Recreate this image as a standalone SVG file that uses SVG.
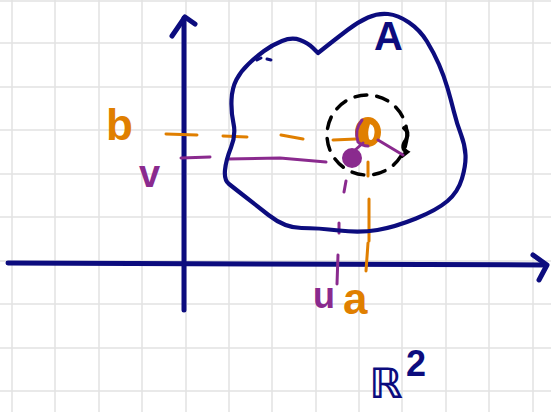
<svg xmlns="http://www.w3.org/2000/svg" width="551" height="412" viewBox="0 0 551 412">
<style>
.grid line{stroke:#e2e2e2;stroke-width:1.5}
.navy{stroke:#0c0c7e;fill:none;stroke-linecap:round;stroke-linejoin:round}
.or{stroke:#e07f00;fill:none;stroke-width:3;stroke-linecap:round}
.pu{stroke:#8a2a8e;fill:none;stroke-width:3;stroke-linecap:round}
.lbl{font-family:"Liberation Sans","DejaVu Sans",sans-serif;font-weight:bold}
</style>
<rect width="551" height="412" fill="#ffffff"/>
<g class="grid">
<line x1="12" y1="0" x2="12" y2="412"/><line x1="55" y1="0" x2="55" y2="412"/><line x1="99" y1="0" x2="99" y2="412"/><line x1="142" y1="0" x2="142" y2="412"/><line x1="186" y1="0" x2="186" y2="412"/><line x1="229" y1="0" x2="229" y2="412"/><line x1="272" y1="0" x2="272" y2="412"/><line x1="316" y1="0" x2="316" y2="412"/><line x1="359" y1="0" x2="359" y2="412"/><line x1="402" y1="0" x2="402" y2="412"/><line x1="446" y1="0" x2="446" y2="412"/><line x1="489" y1="0" x2="489" y2="412"/><line x1="533" y1="0" x2="533" y2="412"/>
<line x1="0" y1="1" x2="551" y2="1"/><line x1="0" y1="43" x2="551" y2="43"/><line x1="0" y1="87" x2="551" y2="87"/><line x1="0" y1="130" x2="551" y2="130"/><line x1="0" y1="174" x2="551" y2="174"/><line x1="0" y1="217" x2="551" y2="217"/><line x1="0" y1="261" x2="551" y2="261"/><line x1="0" y1="304" x2="551" y2="304"/><line x1="0" y1="348" x2="551" y2="348"/><line x1="0" y1="391" x2="551" y2="391"/>
</g>
<g id="connectors">
<path class="navy" stroke-width="5" d="M8 263 L546 265"/>
<path class="navy" stroke-width="5" d="M533 255 L547 265 L539 280"/>
<path class="navy" stroke-width="5" d="M184 310 L184 18"/>
<path class="navy" stroke-width="5" d="M172 36 L185 17 L195 24"/>
<path class="or" d="M166 134 L197 135 M223 136 L247 137 M281 135 L303 139 M333 140 L356 139"/>
<path class="pu" d="M181 158 L210 157 M227 159 L280 158 L326 162"/>
<path class="pu" d="M346 181 L344 192 M339 223 L339 233 M338 255 L337 284"/>
<path class="or" d="M368 162 L368 176 M369 199 L369 241 M368 243 L366 271"/>
</g>
<g id="region-A">
<path class="navy" stroke-width="4.2" d="M248.5 64 Q256 57 264 51 Q272 45 282 41 Q292 37 300 40 Q308 43 313 48 L318 53 L327.5 45.5 Q337 38 347.5 30 Q358 22 368 17.5 Q378 13 388 14 Q398 15 409 22.5 Q420 30 427 41.5 Q434 53 439 64.5 Q444 76 447.5 88 Q451 100 454 112 Q457 124 461 134.5 Q465 145 465.5 155 Q466 165 462 178.5 Q458 192 447.5 201 Q437 210 416 218.5 Q395 227 377.5 230 Q360 233 339 230.5 Q318 228 301.5 228 Q285 228 268.5 215 Q252 202 243 195 Q234 188 229 184 Q224 180 225 170 Q226 160 231 147.5 Q236 135 233.5 123.5 Q231 112 231.5 100 Q232 88 236.5 79.5 Q241 71 248.5 64 Z"/>
<path class="navy" stroke-width="3" d="M257 60 L261 58 M267 59 L271 60"/>
<text class="lbl" x="374" y="50" font-size="40" fill="#0c0c7e">A</text>
</g>
<g id="neighborhood">
<circle cx="367" cy="135" r="40" fill="none" stroke="#000" stroke-width="3.5" stroke-dasharray="12 10" stroke-linecap="round"/>
<path d="M404 128 Q410 132 406 140 Q400 148 407 152 L402 156" fill="none" stroke="#000" stroke-width="4" stroke-linecap="round"/>
</g>
<g id="point-ab">
<ellipse cx="368" cy="132" rx="13" ry="15" fill="#e07f00"/>
<path d="M370 124 Q376 126 374 136 Q372 142 369 139 Q367 132 370 124 Z" fill="#ffffff"/>
<path class="pu" d="M362 120 Q354 130 358 142 Q362 146 368 146" stroke-width="2.5"/>
</g>
<g id="point-uv">
<ellipse cx="352" cy="158" rx="10" ry="10" fill="#8a2a8e"/>
<path class="pu" d="M354 151 L363 143" stroke-width="5"/>
<path class="pu" d="M378 140 L403 155" stroke-width="3.5"/>
</g>
<g id="labels">
<text class="lbl" x="106" y="140" font-size="44" fill="#e07f00">b</text>
<text class="lbl" x="139" y="187" font-size="38" fill="#8a2a8e">v</text>
<text class="lbl" x="313" y="308" font-size="36" fill="#8a2a8e">u</text>
<text class="lbl" x="343" y="314" font-size="44" fill="#e07f00">a</text>
<text x="369" y="398" font-size="42" fill="#0c0c7e" font-family="DejaVu Sans, sans-serif" font-weight="bold">ℝ</text>
<text class="lbl" x="406" y="376" font-size="36" fill="#0c0c7e">2</text>
</g>
</svg>
